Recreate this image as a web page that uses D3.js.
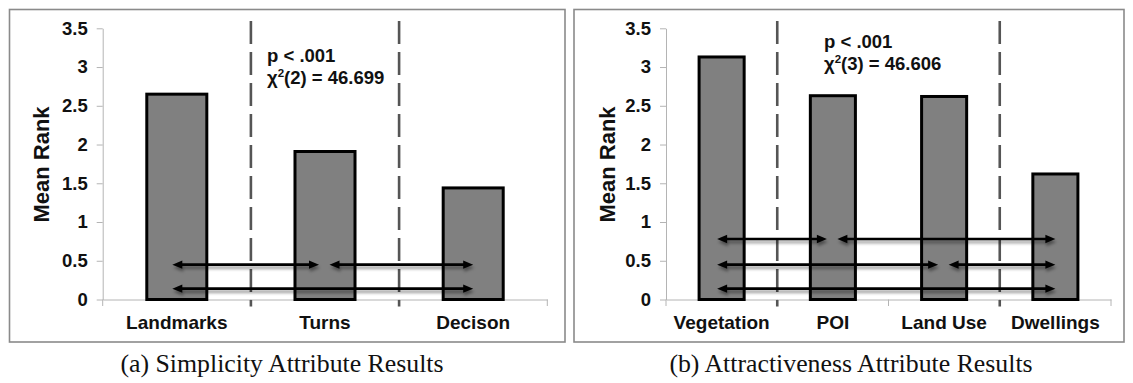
<!DOCTYPE html>
<html>
<head>
<meta charset="utf-8">
<script src="https://cdn.jsdelivr.net/npm/d3@7"></script>
<style>
  html, body { margin: 0; padding: 0; background: #fff; }
  svg { display: block; }
  .bold { font-family: "Liberation Sans", Arial, sans-serif; font-weight: bold; fill: #111; }
  .caption { font-family: "Liberation Serif", "Times New Roman", serif; fill: #111; }
</style>
</head>
<body>
<svg id="fig" width="1133" height="383"></svg>
<script>
// Mean ranks from Friedman tests (per attribute)
const simplicityCategories = ["Landmarks", "Turns", "Decison"];
const simplicityMeans = [2.65, 1.91, 1.44];
const simplicityDividers = ["Turns", "Decison"];          // dashed line drawn before these
const simplicityPairs = [                                  // significant pairwise differences
  ["Landmarks", "Turns", 0.45],
  ["Turns", "Decison", 0.45],
  ["Landmarks", "Decison", 0.14]
];
const simplicityStats = ["p < .001", "2", "(2) = 46.699"];
const simplicityCaption = "(a) Simplicity Attribute Results";

const attractivenessCategories = ["Vegetation", "POI", "Land Use", "Dwellings"];
const attractivenessMeans = [3.13, 2.63, 2.62, 1.62];
const attractivenessDividers = ["POI", "Dwellings"];
const attractivenessPairs = [
  ["Vegetation", "POI", 0.78],
  ["POI", "Dwellings", 0.78],
  ["Vegetation", "Land Use", 0.45],
  ["Land Use", "Dwellings", 0.45],
  ["Vegetation", "Dwellings", 0.14]
];
const attractivenessStats = ["p < .001", "2", "(3) = 46.606"];
const attractivenessCaption = "(b) Attractiveness Attribute Results";

const yTicks = [0, 0.5, 1, 1.5, 2, 2.5, 3, 3.5];
const yTitle = "Mean Rank";

const svg = d3.select("#fig");

// soft shadow under the comparison arrows
const defs = svg.append("defs");
const f = defs.append("filter").attr("id", "arrowShadow")
  .attr("x", "-5%").attr("y", "-100%").attr("width", "110%").attr("height", "400%");
f.append("feDropShadow").attr("dx", 1).attr("dy", 3).attr("stdDeviation", 1.7)
  .attr("flood-color", "#000").attr("flood-opacity", 0.4);

function drawPanel(opt) {
  const g = svg.append("g");

  // panel frame
  g.append("rect")
    .attr("x", opt.frame[0]).attr("y", opt.frame[1])
    .attr("width", opt.frame[2] - opt.frame[0]).attr("height", opt.frame[3] - opt.frame[1])
    .attr("fill", "none").attr("stroke", "#8a8a8a").attr("stroke-width", 1.6);

  const y = d3.scaleLinear().domain([0, 3.5]).range([299.5, 28.3]);
  const x = d3.scaleBand().domain(opt.categories).range(opt.xRange).paddingInner(0).paddingOuter(0);
  const bw = x.bandwidth();
  const barW = bw * 0.405;
  const cx = c => x(c) + bw / 2;

  // y axis
  const yAxis = g.append("g")
    .attr("transform", `translate(${opt.xRange[0]},0)`)
    .call(d3.axisLeft(y).tickValues(yTicks).tickFormat(d => String(d)).tickSize(6).tickPadding(9).tickSizeOuter(0));
  yAxis.selectAll("path, line").attr("stroke", "#b4b4b4").attr("stroke-width", 1);
  yAxis.selectAll("text").attr("class", "bold").attr("font-size", 18.5).attr("fill", "#111")
    .attr("font-family", null);

  // x axis baseline with ticks at category boundaries
  const xAxis = g.append("g").attr("transform", `translate(0,${y(0)})`)
    .call(d3.axisBottom(x).tickSize(0).tickFormat(""));
  xAxis.select("path").attr("stroke", "#b4b4b4").attr("stroke-width", 1);
  const bounds = opt.categories.map(c => x(c)).concat([x(opt.categories[opt.categories.length - 1]) + bw]);
  g.selectAll(".xb").data(bounds).join("line")
    .attr("x1", d => d).attr("x2", d => d)
    .attr("y1", y(0)).attr("y2", y(0) + 6.5)
    .attr("stroke", "#b4b4b4").attr("stroke-width", 1);

  // category labels
  g.selectAll(".xl").data(opt.categories).join("text")
    .attr("class", "bold").attr("font-size", 19)
    .attr("x", d => cx(d)).attr("y", 329).attr("text-anchor", "middle")
    .text(d => d);

  // y title
  g.append("text").attr("class", "bold").attr("font-size", 22)
    .attr("transform", `translate(${opt.titleX},164.5) rotate(-90)`)
    .attr("text-anchor", "middle").attr("dominant-baseline", "central")
    .text(yTitle);

  // dashed group separators
  g.selectAll(".div").data(opt.dividers).join("line")
    .attr("x1", d => x(d)).attr("x2", d => x(d))
    .attr("y1", 21).attr("y2", y(0) + 7)
    .attr("stroke", "#555").attr("stroke-width", 2.6)
    .attr("stroke-dasharray", "23,8");

  // bars
  g.selectAll(".bar").data(opt.categories).join("rect")
    .attr("x", d => cx(d) - barW / 2)
    .attr("width", barW)
    .attr("y", (d, i) => y(opt.means[i]))
    .attr("height", (d, i) => y(0) - y(opt.means[i]))
    .attr("fill", "#808080").attr("stroke", "#000").attr("stroke-width", 3);

  // statistics annotation
  const t = g.append("text").attr("class", "bold").attr("font-size", 18.5);
  t.append("tspan").attr("x", opt.statX).attr("y", opt.statY).text(opt.stats[0]);
  const l2 = t.append("tspan").attr("x", opt.statX).attr("y", opt.statY + 21.8);
  l2.append("tspan").text("χ");
  l2.append("tspan").attr("font-size", 11.5).attr("dy", -7).text(opt.stats[1]);
  l2.append("tspan").attr("dy", 7).text(opt.stats[2]);

  // pairwise comparison arrows
  const ag = g.append("g").attr("filter", "url(#arrowShadow)");
  opt.pairs.forEach(([a, b, lvl]) => {
    const meetsStart = opt.pairs.some(p => p[1] === a && p[2] === lvl);
    const meetsEnd = opt.pairs.some(p => p[0] === b && p[2] === lvl);
    const x1 = cx(a) + (meetsStart ? 4.5 : -4.5);
    const x2 = cx(b) + (meetsEnd ? -6 : 0);
    const yy = y(lvl);
    const hl = 10, hw = 4.2;
    ag.append("line").attr("x1", x1 + hl - 1).attr("x2", x2 - hl + 1)
      .attr("y1", yy).attr("y2", yy).attr("stroke", "#000").attr("stroke-width", 2.6);
    ag.append("path").attr("d", `M${x1},${yy} L${x1 + hl},${yy - hw} L${x1 + hl},${yy + hw} Z`).attr("fill", "#000");
    ag.append("path").attr("d", `M${x2},${yy} L${x2 - hl},${yy - hw} L${x2 - hl},${yy + hw} Z`).attr("fill", "#000");
  });

  // caption
  svg.append("text").attr("class", "caption").attr("font-size", 25.8)
    .attr("x", opt.captionX).attr("y", 371.5).attr("text-anchor", "middle")
    .text(opt.caption);
}

drawPanel({
  frame: [9.5, 9.5, 565, 342],
  categories: simplicityCategories, means: simplicityMeans,
  dividers: simplicityDividers, pairs: simplicityPairs,
  xRange: [102.7, 547.3], titleX: 41.7,
  stats: simplicityStats, statX: 267, statY: 61.7,
  caption: simplicityCaption, captionX: 282
});

drawPanel({
  frame: [574, 9.5, 1124, 342],
  categories: attractivenessCategories, means: attractivenessMeans,
  dividers: attractivenessDividers, pairs: attractivenessPairs,
  xRange: [666, 1111], titleX: 607.5,
  stats: attractivenessStats, statX: 824, statY: 48.3,
  caption: attractivenessCaption, captionX: 851
});
</script>
</body>
</html>
